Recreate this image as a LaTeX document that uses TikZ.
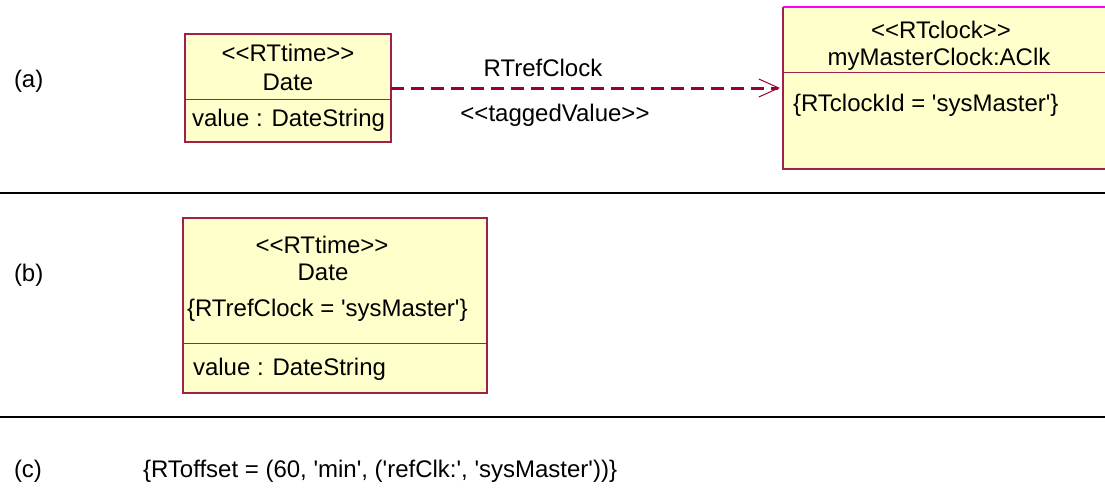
\documentclass[tikz,border=0pt]{standalone}
\usepackage{fontspec}
\newfontfamily\umlfont{Liberation Sans}
\usetikzlibrary{arrows.meta}
\definecolor{umlfill}{HTML}{FFFFCC}
\definecolor{umlline}{HTML}{A0204A}
\definecolor{deparrow}{HTML}{990033}
\definecolor{magline}{HTML}{FF00FF}
\begin{document}
\begin{tikzpicture}[x=1pt,y=-1pt,
  every node/.style={inner sep=0pt,outer sep=0pt},
  txt/.style={font=\umlfont\fontsize{24}{28}\selectfont,anchor=base},
  txtl/.style={txt,anchor=base west},
  umlbox/.style={rectangle,draw=umlline,fill=umlfill,line width=1.2pt,anchor=north west},
  divider/.style={draw=umlline,line width=1pt},
  sepline/.style={draw=black,line width=2.5pt},
  dep/.style={draw=deparrow,line width=3pt,dash pattern=on 13pt off 7pt,
    -{Straight Barb[length=20pt,width=18pt,line width=1pt]}}]
\useasboundingbox (0,0) rectangle (1105,487);

% section separators
\draw[sepline] (0,193) -- (1105,193);
\draw[sepline] (0,417) -- (1105,417);

% ---------- (a)
\node[txtl] (la) at (14,88) {(a)};
\node[umlbox,minimum width=206pt,minimum height=108pt] (d1) at (185,34) {};
\draw[divider] (d1.west |- 0,99) -- (d1.east |- 0,99);
\node[txt] (d1s) at (288,62) {<<RTtime>>};
\node[txt] (d1n) at (288,90) {Date};
\node[txtl] (d1a) at (192,126) {value : DateString};

\node[rectangle,fill=umlfill,minimum width=322pt,minimum height=162pt,anchor=north west] (clk) at (783,7) {};
\draw[umlline,line width=1.2pt] (clk.north west) -- (clk.south west) -- (clk.south east);
\draw[magline,line width=2pt] (clk.north west) -- (clk.north east);
\draw[divider] (clk.west |- 0,72) -- (clk.east |- 0,72);
\node[txt] (clks) at (941,38) {<<RTclock>>};
\node[txt] (clkn) at (939,66) {myMasterClock:AClk};
\node[txtl] (clka) at (793,111) {\{RTclockId = 'sysMaster'\}};

\draw[dep,shorten >=3pt] (d1.east) -- (clk.west);
\node[txt] (tvname) at (543,76) {RTrefClock};
\node[txt] (tvst) at (555,121) {<<taggedValue>>};

% ---------- (b)
\node[txtl] (lb) at (14,281) {(b)};
\node[umlbox,minimum width=304pt,minimum height=175pt] (d2) at (183,218) {};
\draw[divider] (d2.west |- 0,343) -- (d2.east |- 0,343);
\node[txt] (d2s) at (322,253) {<<RTtime>>};
\node[txt] (d2n) at (323,280) {Date};
\node[txtl] (d2t) at (187,316) {\{RTrefClock = 'sysMaster'\}};
\node[txtl] (d2a) at (193,375) {value : DateString};

% ---------- (c)
\node[txtl] (lc) at (14,477) {(c)};
\node[txtl] (off) at (143,477) {\{RToffset = (60, 'min', ('refClk:', 'sysMaster'))\}};
\end{tikzpicture}
\end{document}
